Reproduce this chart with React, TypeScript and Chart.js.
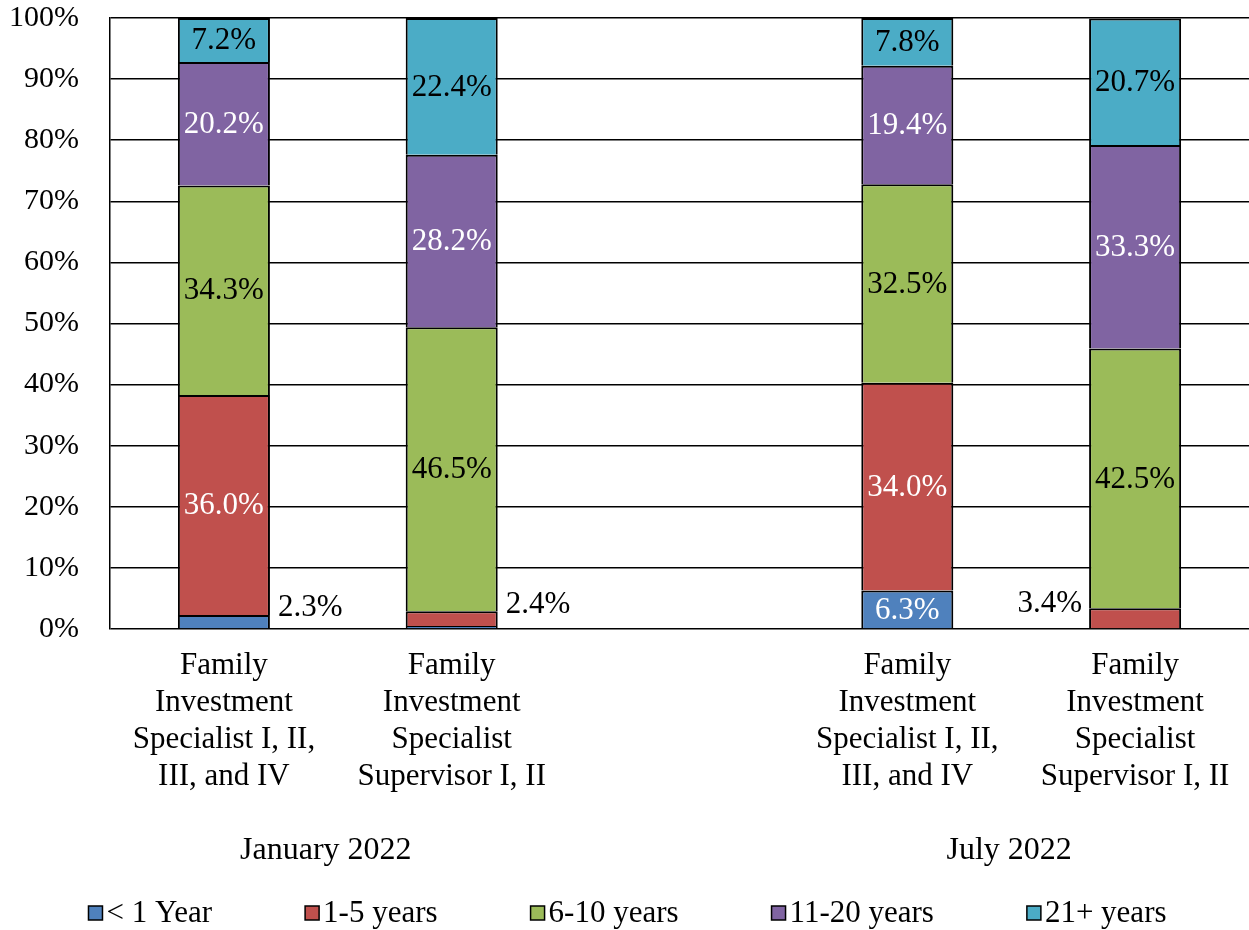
import React, { useEffect, useRef } from 'react';
import { Chart, registerables } from 'chart.js';

Chart.register(...registerables);

const CATEGORIES: (string | string[])[] = [
  ['Family', 'Investment', 'Specialist I, II,', 'III, and IV'],
  ['Family', 'Investment', 'Specialist', 'Supervisor I, II'],
  '',
  ['Family', 'Investment', 'Specialist I, II,', 'III, and IV'],
  ['Family', 'Investment', 'Specialist', 'Supervisor I, II'],
];
const GROUP_LABELS = ['January 2022', 'July 2022'];
const GROUP_MEMBERS = [[0, 1], [3, 4]];

const SERIES_NAMES = ['< 1 Year', '1-5 years', '6-10 years', '11-20 years', '21+ years'];
const LESS_THAN_1 = [2.3, 0.5, null, 6.3, 0];
const YEARS_1_5 = [36.0, 2.4, null, 34.0, 3.4];
const YEARS_6_10 = [34.3, 46.5, null, 32.5, 42.5];
const YEARS_11_20 = [20.2, 28.2, null, 19.4, 33.3];
const YEARS_21_PLUS = [7.2, 22.4, null, 7.8, 20.7];
const SERIES_VALUES = [LESS_THAN_1, YEARS_1_5, YEARS_6_10, YEARS_11_20, YEARS_21_PLUS];

const COLORS = ['#4F81BD', '#C0504D', '#9BBB59', '#8064A2', '#4BACC6'];
const LABEL_COLORS = ['#FFFFFF', '#FFFFFF', '#000000', '#FFFFFF', '#000000'];
const Y_TICKS = [0, 10, 20, 30, 40, 50, 60, 70, 80, 90, 100];

const FONT_FAMILY = '"Liberation Serif", "Times New Roman", serif';
const FONT_SIZE = 31;

const segmentLabels = {
  id: 'segmentLabels',
  afterDatasetsDraw(chart: any) {
    const ctx = chart.ctx;
    ctx.save();
    ctx.font = `${FONT_SIZE}px ${FONT_FAMILY}`;
    ctx.textBaseline = 'middle';
    chart.data.datasets.forEach((ds: any, di: number) => {
      const meta = chart.getDatasetMeta(di);
      meta.data.forEach((bar: any, i: number) => {
        const v = ds.data[i];
        if (v == null || v < 1) return;
        const p = bar.getProps(['x', 'y', 'base', 'width'], true);
        const cy = (p.y + p.base) / 2;
        const text = v.toFixed(1) + '%';
        if (v < 5) {
          const last = i === CATEGORIES.length - 1;
          ctx.fillStyle = '#000';
          ctx.textAlign = last ? 'right' : 'left';
          ctx.fillText(text, last ? p.x - p.width / 2 - 7 : p.x + p.width / 2 + 8, cy - 14);
        } else {
          ctx.fillStyle = LABEL_COLORS[di];
          ctx.textAlign = 'center';
          ctx.fillText(text, p.x, cy + 1);
        }
      });
    });
    ctx.restore();
  },
};

const groupAndLegend = {
  id: 'groupAndLegend',
  afterDraw(chart: any) {
    const ctx = chart.ctx;
    const xs = chart.scales.x;
    ctx.save();
    ctx.font = `32px ${FONT_FAMILY}`;
    ctx.fillStyle = '#000';
    ctx.textAlign = 'center';
    ctx.textBaseline = 'alphabetic';
    GROUP_LABELS.forEach((lbl, gi) => {
      const members = GROUP_MEMBERS[gi];
      const mid =
        members.reduce((s, m) => s + xs.getPixelForValue(m), 0) / members.length;
      ctx.fillText(lbl, mid - 12, 859);
    });

    // legend
    ctx.font = `${FONT_SIZE}px ${FONT_FAMILY}`;
    const box = 14;
    const boxGap = 4;
    const itemGap = 93;
    const widths = SERIES_NAMES.map((n) => box + boxGap + ctx.measureText(n).width);
    const total = widths.reduce((a, b) => a + b, 0) + itemGap * (widths.length - 1);
    let x = (chart.width - total) / 2 + 3;
    const cy = 913;
    ctx.textAlign = 'left';
    ctx.textBaseline = 'middle';
    SERIES_NAMES.forEach((n, i) => {
      ctx.fillStyle = COLORS[i];
      ctx.fillRect(x, cy - box / 2, box, box);
      ctx.strokeStyle = '#000';
      ctx.lineWidth = 1.5;
      ctx.strokeRect(x, cy - box / 2, box, box);
      ctx.fillStyle = '#000';
      ctx.fillText(n, x + box + boxGap, cy + 1);
      x += widths[i] + itemGap;
    });
    ctx.restore();
  },
};

export default function App() {
  const ref = useRef<HTMLCanvasElement>(null);
  useEffect(() => {
    document.body.style.margin = '0';
    const font = { family: FONT_FAMILY, size: FONT_SIZE, lineHeight: 37 / FONT_SIZE };
    const yFont = { family: FONT_FAMILY, size: 30, lineHeight: 1.2 };
    const chart = new Chart(ref.current as HTMLCanvasElement, {
      type: 'bar',
      data: {
        labels: CATEGORIES,
        datasets: SERIES_NAMES.map((name, i) => ({
          label: name,
          data: SERIES_VALUES[i],
          backgroundColor: COLORS[i],
          borderColor: '#000000',
          borderWidth: 2,
          barPercentage: 0.404,
          categoryPercentage: 1,
        })),
      },
      options: {
        responsive: false,
        animation: false,
        layout: { padding: { left: 7, right: 0, top: 0, bottom: 135 } },
        plugins: {
          legend: { display: false },
          tooltip: { enabled: false },
        },
        scales: {
          x: {
            stacked: true,
            grid: { display: false, drawTicks: false },
            border: { display: false },
            ticks: {
              color: '#000',
              font,
              padding: 18,
              maxRotation: 0,
              autoSkip: false,
            },
            afterFit: (s: any) => {
              s.height = 166;
              s.paddingLeft = 0;
              s.paddingRight = 0;
            },
          },
          y: {
            stacked: true,
            min: 0,
            max: 100,
            afterBuildTicks: (scale: any) => {
              scale.ticks = Y_TICKS.map((v) => ({ value: v }));
            },
            ticks: {
              color: '#000',
              font: yFont,
              padding: 31,
              callback: (v: any) => `${v}%`,
            },
            grid: { color: '#000', lineWidth: 1.5, drawTicks: false },
            border: { display: true, color: '#000', width: 1.5 },
            afterFit: (s: any) => {
              s.width = 103;
              s.paddingTop = 18;
              s.paddingBottom = 0;
            },
          },
        },
      },
      plugins: [segmentLabels, groupAndLegend],
    });
    return () => chart.destroy();
  }, []);
  return <canvas ref={ref} width={1249} height={930} style={{ display: 'block' }} />;
}
